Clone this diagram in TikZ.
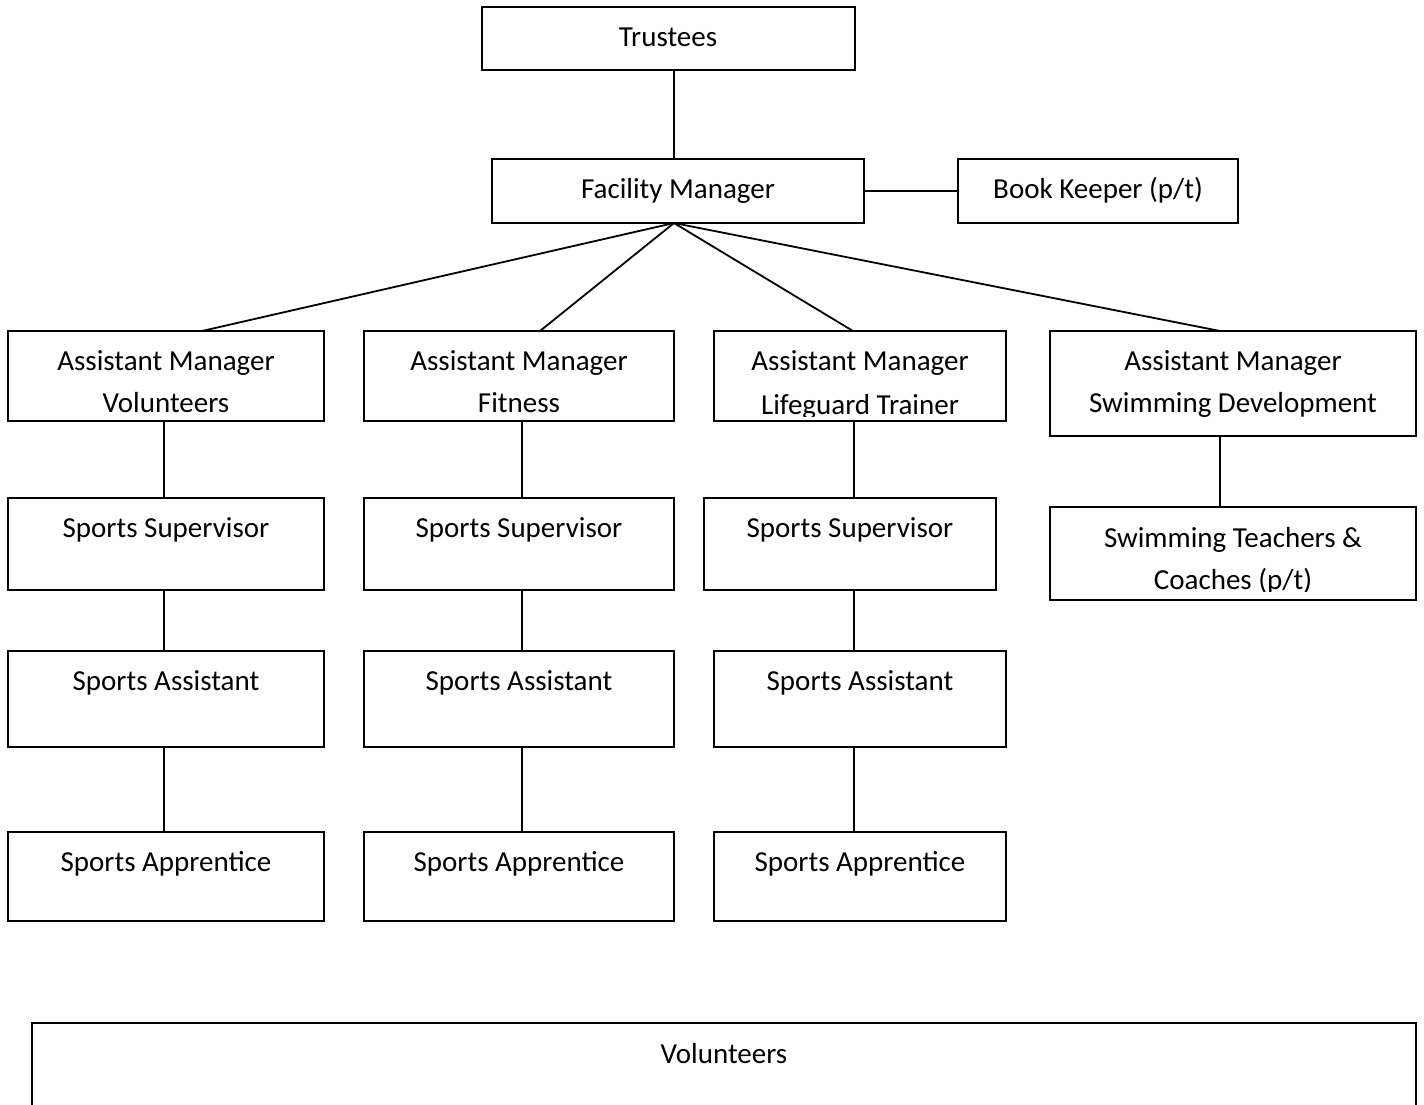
\documentclass[tikz,border=0pt]{standalone}
\usepackage{fontspec}
\setmainfont{Carlito}
\newcommand\obox[5]{\node[box, minimum width={(#4-#2)*1pt}, minimum height={(#5-#3)*1pt}] (#1) at (#2,#3) {};}
\begin{document}
\begin{tikzpicture}[x=1pt,y=-1pt,
  box/.style={draw, line width=1.8pt, inner sep=0pt, outer sep=0pt, anchor=north west},
  lbl/.style={font=\fontsize{29}{42}\selectfont, anchor=base, inner sep=0pt},
  conn/.style={line width=1.8pt}]
\useasboundingbox (0,0) rectangle (1424,1104);
\clip (0,0) rectangle (1424,1104);
% boxes
\obox{tr}{482}{7}{855}{70}
\obox{fm}{492}{159}{864}{223}
\obox{bk}{958}{159}{1238}{223}
\obox{amv}{8}{331}{324}{421}
\obox{amf}{364}{331}{674}{421}
\obox{aml}{714}{331}{1006}{421}
\obox{ams}{1050}{331}{1416}{436}
\obox{ssv}{8}{498}{324}{590}
\obox{ssf}{364}{498}{674}{590}
\obox{ssl}{704}{498}{996}{590}
\obox{stc}{1050}{507}{1416}{600}
\obox{sav}{8}{651}{324}{747}
\obox{saf}{364}{651}{674}{747}
\obox{sal}{714}{651}{1006}{747}
\obox{apv}{8}{832}{324}{921}
\obox{apf}{364}{832}{674}{921}
\obox{apl}{714}{832}{1006}{921}
\obox{vol}{32}{1023}{1416}{1130}
% labels
\node[lbl] (ttr) at (668,46) {Trustees};
\node[lbl] (tfm) at (678,198) {Facility Manager};
\node[lbl] (tbk) at (1098,198) {Book Keeper (p/t)};
\node[lbl] (tamv1) at (166,370) {Assistant Manager};
\node[lbl] (tamv2) at (166,412) {Volunteers};
\node[lbl] (tamf1) at (519,370) {Assistant Manager};
\node[lbl] (tamf2) at (519,412) {Fitness};
\node[lbl] (taml1) at (860,370) {Assistant Manager};
\begin{scope}
\clip (714,331) rectangle (1006,416);
\node[lbl] (taml2) at (860,414) {Lifeguard Trainer};
\end{scope}
\node[lbl] (tams1) at (1233,370) {Assistant Manager};
\node[lbl] (tams2) at (1233,412) {Swimming Development};
\node[lbl] (tssv) at (166,537) {Sports Supervisor};
\node[lbl] (tssf) at (519,537) {Sports Supervisor};
\node[lbl] (tssl) at (850,537) {Sports Supervisor};
\node[lbl] (tstc1) at (1233,547) {Swimming Teachers \&};
\begin{scope}
\clip (1050,507) rectangle (1416,591);
\node[lbl] (tstc2) at (1233,589) {Coaches (p/t)};
\end{scope}
\node[lbl] (tsav) at (166,690) {Sports Assistant};
\node[lbl] (tsaf) at (519,690) {Sports Assistant};
\node[lbl] (tsal) at (860,690) {Sports Assistant};
\node[lbl] (tapv) at (166,871) {Sports Apprentice};
\node[lbl] (tapf) at (519,871) {Sports Apprentice};
\node[lbl] (tapl) at (860,871) {Sports Apprentice};
\node[lbl] (tvol) at (724,1063) {Volunteers};
% connectors
\draw[conn] ([xshift=5.5pt]tr.south) -- ([xshift=-4pt]fm.north);
\draw[conn] (fm.east) -- (bk.west);
\draw[conn] ([xshift=-4pt]fm.south) -- ([xshift=36pt]amv.north);
\draw[conn] ([xshift=-4pt]fm.south) -- ([xshift=21pt]amf.north);
\draw[conn] ([xshift=-4pt]fm.south) -- ([xshift=-7pt]aml.north);
\draw[conn] ([xshift=-4pt]fm.south) -- ([xshift=-13pt]ams.north);
\draw[conn] ([xshift=-2pt]amv.south) -- ([xshift=-2pt]ssv.north);
\draw[conn] ([xshift=-2pt]ssv.south) -- ([xshift=-2pt]sav.north);
\draw[conn] ([xshift=-2pt]sav.south) -- ([xshift=-2pt]apv.north);
\draw[conn] ([xshift=3pt]amf.south) -- ([xshift=3pt]ssf.north);
\draw[conn] ([xshift=3pt]ssf.south) -- ([xshift=3pt]saf.north);
\draw[conn] ([xshift=3pt]saf.south) -- ([xshift=3pt]apf.north);
\draw[conn] ([xshift=-6pt]aml.south) -- ([xshift=4pt]ssl.north);
\draw[conn] ([xshift=4pt]ssl.south) -- ([xshift=-6pt]sal.north);
\draw[conn] ([xshift=-6pt]sal.south) -- ([xshift=-6pt]apl.north);
\draw[conn] ([xshift=-13pt]ams.south) -- ([xshift=-13pt]stc.north);
\end{tikzpicture}
\end{document}
